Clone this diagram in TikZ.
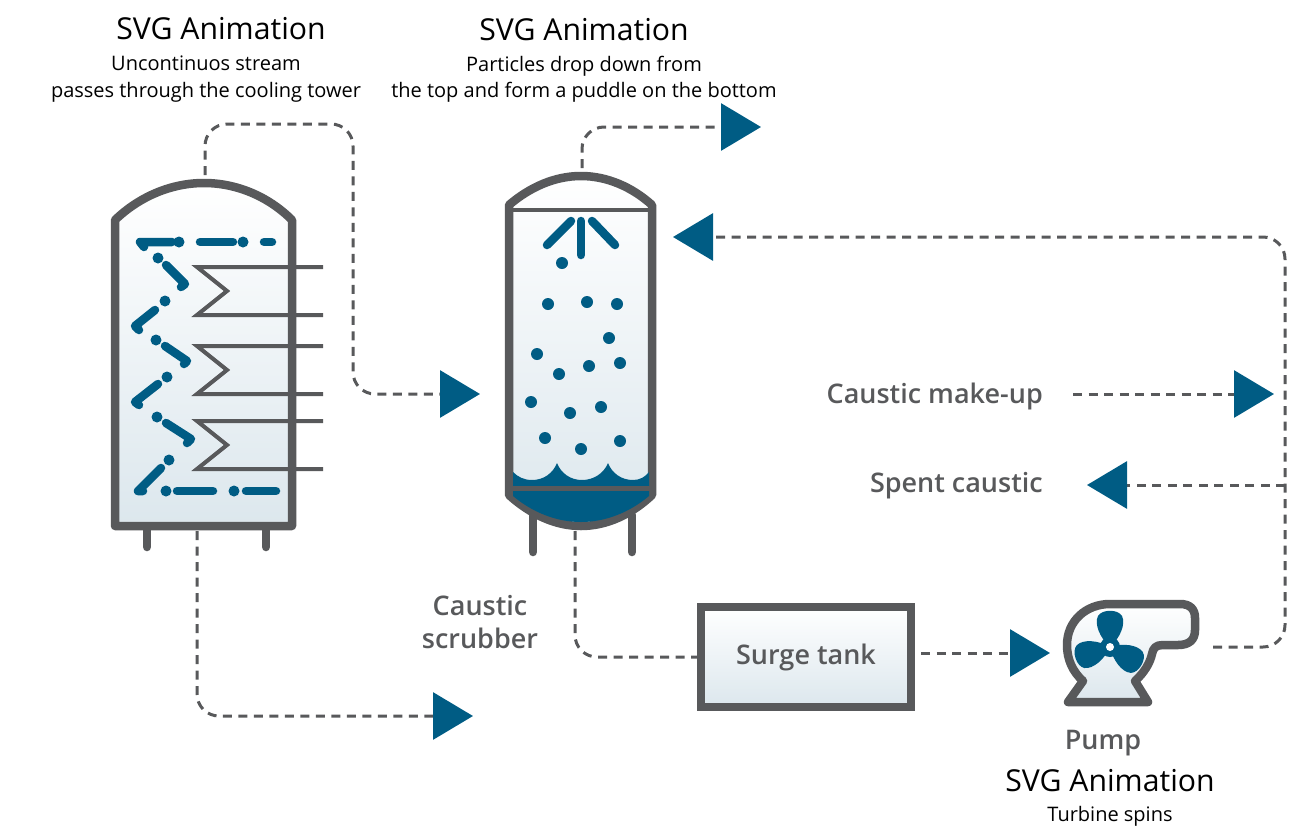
\documentclass[tikz,border=0pt]{standalone}
\usepackage{fontspec}
\setmainfont{Open Sans}
\newfontfamily\semifont{Open Sans Semibold}
\usetikzlibrary{arrows.meta}
\definecolor{steelblue}{HTML}{005C84}
\definecolor{wallgrey}{HTML}{58595B}
\definecolor{tankblue}{HTML}{DCE7ED}
\tikzset{
  wall/.style={draw=wallgrey,line width=8.5pt,line join=round,line cap=round},
  coil/.style={draw=wallgrey,line width=4pt,line join=miter},
  spray/.style={draw=steelblue,line width=8.5pt,line cap=round,line join=round},
  vesselfill/.style={top color=white,bottom color=tankblue},
  flow/.style={draw=wallgrey,line width=3pt,dash pattern=on 9pt off 6.5pt,rounded corners=22pt,
    -{Triangle[length=40pt,width=47pt,fill=steelblue,color=steelblue]}},
  pipe/.style={draw=wallgrey,line width=3pt,dash pattern=on 9pt off 6.5pt,rounded corners=22pt},
  heading/.style={inner sep=0pt,font=\fontsize{30.2}{36}\selectfont},
  caption/.style={inner sep=0pt,align=center,font=\fontsize{20}{26.5}\selectfont},
  tag/.style={inner sep=0pt,align=center,text=wallgrey,font=\semifont\fontsize{27}{33}\selectfont}
}
\begin{document}
\begin{tikzpicture}[x=1pt,y=-1pt]
   \useasboundingbox (0,0) rectangle (1309,828);
   % cooling tower
   \draw[wall] (147,526)--(147,547);
   \draw[wall] (266,526)--(266,547);
   \draw[wall,vesselfill] (115,220) .. controls (140,196) and (172,183) .. (204,183)
      .. controls (236,183) and (268,196) .. (292,220) -- (292,526) -- (115,526) -- cycle;
   \draw[spray] (144,247)--(140,242)--(172,242);
   \fill[steelblue] (179,242) circle [radius=5.5];
   \draw[spray] (200,242)--(233,242);
   \fill[steelblue] (243,242) circle [radius=5.5];
   \draw[spray] (264,242)--(272,242);
   \fill[steelblue] (158,258) circle [radius=5.5];
   \draw[spray] (166,265)--(185,284)--(181,287);
   \fill[steelblue] (165,301) circle [radius=5.5];
   \draw[spray] (155,310)--(135,326)--(139,330);
   \fill[steelblue] (156,340) circle [radius=5.5];
   \draw[spray] (165,346)--(187,361)--(184,364);
   \fill[steelblue] (167,377) circle [radius=5.5];
   \draw[spray] (158,384)--(135,402)--(139,405);
   \fill[steelblue] (157,417) circle [radius=5.5];
   \draw[spray] (166,423)--(191,439)--(187,443);
   \fill[steelblue] (169,460) circle [radius=5.5];
   \draw[spray] (161,468)--(138,491)--(143,491);
   \fill[steelblue] (166,491) circle [radius=5.5];
   \draw[spray] (177,491)--(213,491);
   \fill[steelblue] (234,491) circle [radius=5.5];
   \draw[spray] (246,491)--(276,491);
   \foreach \coiltop in {267,346,421}
      \draw[coil] (323,\coiltop)--(197,\coiltop)--(227,\coiltop+24)--(197,\coiltop+48)--(323,\coiltop+48);
   \coordinate (towerout) at (205,175);
   \coordinate (towerbend) at (353,124);
   \coordinate (towerdrain) at (197,531);
   % caustic scrubber
   \draw[wall] (533,515)--(533,552);
   \draw[wall] (632,515)--(632,552);
   \draw[wall,vesselfill] (509,205) .. controls (530,187) and (555,176) .. (581,176)
      .. controls (607,176) and (632,187) .. (652,205) -- (652,495)
      .. controls (632,514) and (607,526) .. (581,526)
      .. controls (555,526) and (530,514) .. (509,495) -- cycle;
   \fill[steelblue] (513,472) .. controls (518,477) and (524,480) .. (532,480)
      .. controls (544,480) and (553,473) .. (557,463)
      .. controls (561,473) and (570,480) .. (582,480)
      .. controls (594,480) and (604,473) .. (608,463)
      .. controls (612,473) and (621,480) .. (633,480)
      .. controls (640,480) and (645,477) .. (649,472) -- (649,496)
      .. controls (630,512) and (606,522) .. (581,522)
      .. controls (556,522) and (532,512) .. (513,496) -- cycle;
   \draw[wallgrey,line width=4pt] (509,210)--(652,210);
   \draw[wallgrey,line width=5pt] (509,488)--(652,488);
   \draw[spray] (547,245)--(571,221);
   \draw[spray] (581,221)--(581,255);
   \draw[spray] (592,221)--(615,245);
   \foreach \px/\py in {562/263,548/304,587/302,617/304,609/338,537/354,559/374,589/366,620/363,531/402,570/413,601/407,545/438,581/449,620/441}
      \fill[steelblue] (\px,\py) circle [radius=6];
   \coordinate (scrubberout) at (582,168);
   \coordinate (scrubberin) at (480,394);
   \coordinate (sprayin) at (673,237);
   \coordinate (scrubberdrain) at (575,531);
   % pump
   \draw[wall,vesselfill] (1068,702) -- (1083,681) .. controls (1073,672) and (1067,660) .. (1067,645)
      .. controls (1067,621) and (1086,604) .. (1110,604) -- (1180,604)
      .. controls (1190,604) and (1195,609) .. (1195,618) -- (1195,630)
      .. controls (1195,640) and (1189,645) .. (1178,645) -- (1163,645)
      .. controls (1156,645) and (1153,648) .. (1152,654)
      .. controls (1150,663) and (1144,673) .. (1135,681) -- (1148,702) -- cycle;
   \foreach \ang in {0,108,240}
      \fill[steelblue,rotate around={\ang:(1110,647)}] (1110,647) .. controls (1100,638) and (1094,624) .. (1098,616)
         .. controls (1102,609) and (1118,609) .. (1122,616) .. controls (1126,624) and (1120,638) .. (1110,647) -- cycle;
   \fill[steelblue] (1110,647) circle [radius=10];
   \fill[white] (1110,647) circle [radius=4];
   \coordinate (pumpin) at (1050,653);
   \coordinate (pumpout) at (1213,647);
   % surge tank
   \node[tag,draw=wallgrey,line width=8pt,vesselfill,minimum width=210pt,minimum height=100pt,
      outer sep=4pt] (surgetank) at (806,657) {Surge tank};
   % outlets and lines
   \coordinate (towerexit) at (473,716);
   \coordinate (stackexit) at (761,127);
   \coordinate (loopbend) at (1285,647);
   \coordinate (loopcorner) at (1285,237);
   \coordinate (makeupstart) at (1073,394);
   \coordinate (makeupend) at (1274,394);
   \coordinate (spentjoin) at (1285,485);
   \coordinate (spentend) at (1087,485);
   \node[tag,anchor=east] (makeup) at (1043,396) {Caustic make-up};
   \node[tag,anchor=east] (spent) at (1043,486) {Spent caustic};
   \node[tag] (scrubberlabel) at (480,622) {Caustic\\scrubber};
   \node[tag] (pumplabel) at (1103,743) {Pump};
   \draw[flow] (towerout) |- (towerbend) |- (scrubberin);
   \draw[flow] (towerdrain) |- (towerexit);
   \draw[flow] (scrubberout) |- (stackexit);
   \draw[pipe] (scrubberdrain) |- (surgetank.west);
   \draw[flow,shorten <=6pt] (surgetank.east |- pumpin) -- (pumpin);
   \draw[flow] (pumpout) -- (loopbend) -- (loopcorner) -- (sprayin);
   \draw[flow] (makeupstart) -- (makeupend);
   \draw[flow] (spentjoin) -- (spentend);
   % texts
   \node[heading] (titletower) at (221,29) {SVG Animation};
   \node[caption] (notetower) at (206,79) {Uncontinuos stream\\passes through the cooling tower};
   \node[heading] (titlescrubber) at (584,30) {SVG Animation};
   \node[caption] (notescrubber) at (584,79) {Particles drop down from\\the top and form a puddle on the bottom};
   \node[heading] (titlepump) at (1110,781) {SVG Animation};
   \node[caption] (notepump) at (1110,816) {Turbine spins};
\end{tikzpicture}
\end{document}
